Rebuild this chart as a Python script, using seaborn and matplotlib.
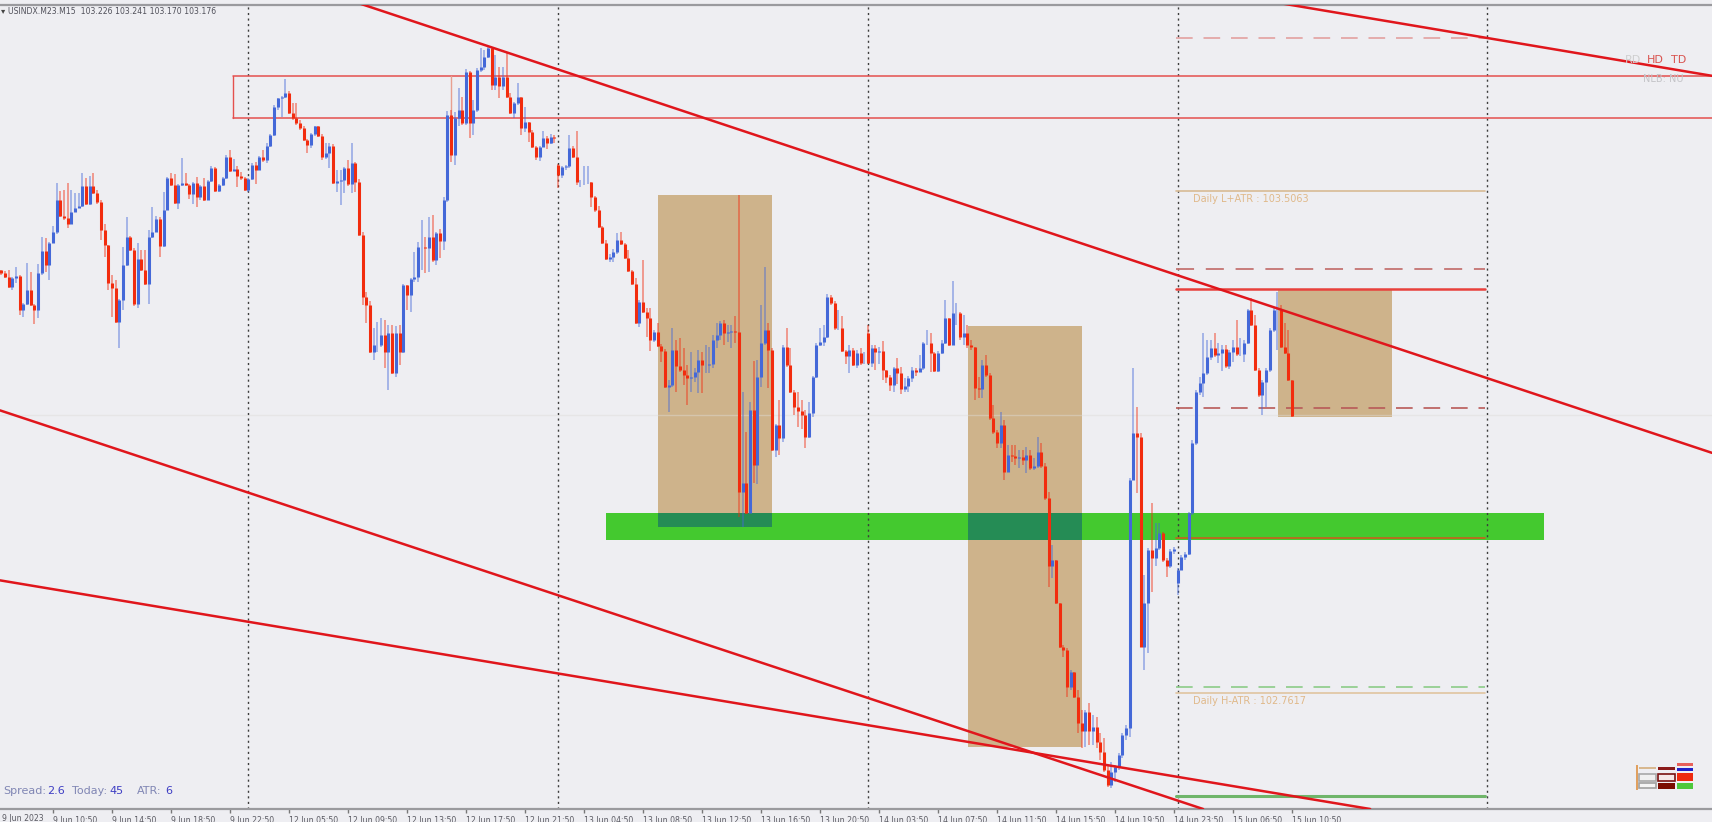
"""
plot.py

USINDX M15 chart with zones, trend lines and daily ATR levels.
"""

import matplotlib

matplotlib.use("Agg")
import matplotlib.pyplot as plt
from matplotlib.patches import Rectangle
import numpy as np
import pandas as pd
import seaborn as sns

# Figure settings
FIG_W, FIG_H = 1712, 822
BG = "#eeeef2"
BLUE = "#4468d8"
RED = "#f22c0e"
TAN = "#ceb38b"

FIRST_OPEN = 103.389

closes = [
    103.385, 103.379, 103.364, 103.377, 103.380, 103.330, 103.339, 103.359, 103.337, 103.330,
    103.385, 103.417, 103.396, 103.429, 103.445, 103.493, 103.469, 103.466, 103.457, 103.475,
    103.481, 103.484, 103.514, 103.487, 103.514, 103.503, 103.490, 103.448, 103.426, 103.370,
    103.362, 103.312, 103.345, 103.396, 103.438, 103.419, 103.339, 103.405, 103.389, 103.368,
    103.438, 103.445, 103.465, 103.425, 103.478, 103.526, 103.515, 103.488, 103.515, 103.518,
    103.515, 103.502, 103.518, 103.497, 103.514, 103.493, 103.521, 103.540, 103.506, 103.515,
    103.526, 103.557, 103.536, 103.539, 103.528, 103.526, 103.508, 103.524, 103.545, 103.537,
    103.557, 103.552, 103.573, 103.589, 103.631, 103.644, 103.646, 103.652, 103.622, 103.615,
    103.607, 103.600, 103.582, 103.574, 103.591, 103.603, 103.588, 103.557, 103.563, 103.573,
    103.518, 103.521, 103.523, 103.540, 103.517, 103.548, 103.520, 103.441, 103.349, 103.337,
    103.268, 103.278, 103.278, 103.293, 103.268, 103.296, 103.236, 103.296, 103.268, 103.367,
    103.352, 103.376, 103.379, 103.423, 103.423, 103.422, 103.438, 103.404, 103.444, 103.432,
    103.493, 103.619, 103.560, 103.615, 103.626, 103.607, 103.683, 103.607, 103.626, 103.686,
    103.690, 103.705, 103.718, 103.663, 103.675, 103.662, 103.675, 103.646, 103.622, 103.637,
    103.646, 103.600, 103.609, 103.594, 103.572, 103.557, 103.572, 103.585, 103.577, 103.586,
    103.585, 103.530, 103.542, 103.543, 103.570, 103.557, 103.520, 103.520, 103.520, 103.520,
    103.497, 103.478, 103.453, 103.429, 103.405, 103.408, 103.416, 103.434, 103.428, 103.407,
    103.388, 103.368, 103.311, 103.342, 103.327, 103.318, 103.285, 103.297, 103.276, 103.269,
    103.216, 103.219, 103.270, 103.247, 103.241, 103.233, 103.229, 103.230, 103.238, 103.256,
    103.248, 103.248, 103.250, 103.285, 103.293, 103.311, 103.296, 103.297, 103.299, 103.297,
    103.060, 103.073, 103.029, 103.181, 103.100, 103.230, 103.281, 103.300, 103.270, 103.122,
    103.159, 103.140, 103.275, 103.248, 103.208, 103.186, 103.180, 103.174, 103.141, 103.177,
    103.230, 103.278, 103.282, 103.290, 103.349, 103.340, 103.303, 103.303, 103.269, 103.262,
    103.270, 103.248, 103.266, 103.251, 103.251, 103.251, 103.273, 103.267, 103.269, 103.241,
    103.230, 103.219, 103.244, 103.236, 103.213, 103.217, 103.229, 103.241, 103.238, 103.244,
    103.281, 103.281, 103.266, 103.239, 103.266, 103.281, 103.318, 103.278, 103.325, 103.325,
    103.290, 103.296, 103.278, 103.275, 103.214, 103.213, 103.248, 103.233, 103.170, 103.149,
    103.133, 103.159, 103.090, 103.115, 103.113, 103.110, 103.112, 103.107, 103.115, 103.095,
    103.098, 103.119, 103.098, 103.051, 102.950, 102.959, 102.895, 102.830, 102.826, 102.771,
    102.793, 102.756, 102.717, 102.705, 102.734, 102.705, 102.711, 102.690, 102.674, 102.648,
    102.625, 102.645, 102.652, 102.670, 102.700, 102.710, 103.078, 103.147, 103.141, 102.830,
    102.895, 102.974, 102.962, 102.977, 102.999, 102.959, 102.950, 102.972, 102.975, 102.944,
    102.963, 102.968, 103.029, 103.133, 103.208, 103.222, 103.236, 103.260, 103.273, 103.263,
    103.266, 103.272, 103.247, 103.267, 103.275, 103.264, 103.264, 103.281, 103.330, 103.308,
    103.241, 103.204, 103.223, 103.241, 103.300, 103.330, 103.330, 103.275, 103.266, 103.226,
    103.173,
]

highs = [
    103.389, 103.388, 103.389, 103.379, 103.394, 103.382, 103.340, 103.400, 103.386, 103.339,
    103.398, 103.438, 103.436, 103.431, 103.454, 103.518, 103.506, 103.508, 103.518, 103.508,
    103.503, 103.503, 103.533, 103.526, 103.529, 103.533, 103.508, 103.493, 103.457, 103.426,
    103.382, 103.374, 103.346, 103.423, 103.468, 103.440, 103.422, 103.429, 103.419, 103.419,
    103.448, 103.483, 103.469, 103.468, 103.505, 103.527, 103.533, 103.531, 103.517, 103.555,
    103.533, 103.517, 103.520, 103.527, 103.515, 103.526, 103.523, 103.543, 103.542, 103.517,
    103.527, 103.560, 103.567, 103.554, 103.543, 103.534, 103.527, 103.526, 103.548, 103.549,
    103.558, 103.567, 103.577, 103.591, 103.634, 103.644, 103.647, 103.672, 103.655, 103.637,
    103.637, 103.612, 103.603, 103.583, 103.592, 103.603, 103.603, 103.591, 103.577, 103.577,
    103.576, 103.537, 103.537, 103.542, 103.552, 103.577, 103.549, 103.524, 103.445, 103.356,
    103.343, 103.303, 103.312, 103.318, 103.315, 103.308, 103.308, 103.306, 103.308, 103.368,
    103.367, 103.377, 103.416, 103.430, 103.463, 103.438, 103.468, 103.471, 103.445, 103.450,
    103.497, 103.625, 103.626, 103.623, 103.659, 103.646, 103.687, 103.684, 103.641, 103.689,
    103.718, 103.715, 103.721, 103.718, 103.708, 103.690, 103.690, 103.711, 103.652, 103.638,
    103.666, 103.646, 103.631, 103.609, 103.597, 103.573, 103.573, 103.595, 103.588, 103.591,
    103.589, 103.546, 103.543, 103.545, 103.589, 103.573, 103.595, 103.523, 103.543, 103.543,
    103.520, 103.499, 103.484, 103.454, 103.434, 103.413, 103.420, 103.444, 103.445, 103.429,
    103.419, 103.389, 103.377, 103.345, 103.404, 103.333, 103.333, 103.300, 103.311, 103.279,
    103.272, 103.226, 103.303, 103.285, 103.288, 103.273, 103.248, 103.267, 103.244, 103.270,
    103.267, 103.278, 103.275, 103.293, 103.311, 103.313, 103.315, 103.308, 103.308, 103.321,
    103.500, 103.208, 103.149, 103.193, 103.254, 103.256, 103.337, 103.393, 103.310, 103.273,
    103.161, 103.196, 103.278, 103.303, 103.273, 103.211, 103.208, 103.196, 103.181, 103.193,
    103.232, 103.281, 103.303, 103.308, 103.354, 103.352, 103.343, 103.330, 103.321, 103.270,
    103.278, 103.273, 103.270, 103.273, 103.267, 103.308, 103.278, 103.278, 103.275, 103.284,
    103.241, 103.233, 103.245, 103.259, 103.245, 103.229, 103.232, 103.245, 103.244, 103.263,
    103.282, 103.300, 103.296, 103.267, 103.269, 103.285, 103.345, 103.318, 103.373, 103.340,
    103.327, 103.322, 103.308, 103.285, 103.275, 103.230, 103.256, 103.263, 103.236, 103.189,
    103.152, 103.179, 103.167, 103.130, 103.130, 103.130, 103.122, 103.122, 103.127, 103.122,
    103.110, 103.141, 103.133, 103.103, 103.060, 102.981, 102.959, 102.895, 102.833, 102.829,
    102.796, 102.793, 102.766, 102.737, 102.737, 102.747, 102.729, 102.726, 102.702, 102.695,
    102.655, 102.660, 102.655, 102.673, 102.702, 102.714, 103.081, 103.244, 103.186, 103.147,
    102.937, 102.977, 103.044, 103.014, 103.014, 103.000, 102.962, 102.975, 102.978, 102.947,
    102.966, 102.971, 103.030, 103.137, 103.211, 103.231, 103.296, 103.285, 103.285, 103.296,
    103.281, 103.278, 103.278, 103.270, 103.285, 103.315, 103.288, 103.285, 103.331, 103.348,
    103.322, 103.244, 103.226, 103.244, 103.303, 103.333, 103.356, 103.337, 103.311, 103.300,
    103.226,
]

lows = [
    103.382, 103.377, 103.362, 103.359, 103.370, 103.322, 103.320, 103.337, 103.336, 103.309,
    103.318, 103.382, 103.386, 103.374, 103.429, 103.442, 103.468, 103.463, 103.451, 103.457,
    103.475, 103.481, 103.483, 103.486, 103.486, 103.502, 103.487, 103.434, 103.408, 103.359,
    103.319, 103.311, 103.273, 103.330, 103.395, 103.417, 103.336, 103.333, 103.388, 103.367,
    103.339, 103.437, 103.445, 103.408, 103.423, 103.478, 103.514, 103.487, 103.480, 103.514,
    103.514, 103.494, 103.487, 103.482, 103.493, 103.491, 103.500, 103.520, 103.505, 103.505,
    103.514, 103.524, 103.534, 103.537, 103.512, 103.523, 103.506, 103.505, 103.523, 103.517,
    103.537, 103.549, 103.548, 103.572, 103.588, 103.626, 103.616, 103.644, 103.620, 103.612,
    103.604, 103.597, 103.580, 103.563, 103.570, 103.588, 103.586, 103.552, 103.554, 103.540,
    103.517, 103.505, 103.486, 103.503, 103.514, 103.503, 103.505, 103.440, 103.337, 103.310,
    103.266, 103.256, 103.268, 103.275, 103.244, 103.211, 103.235, 103.230, 103.248, 103.266,
    103.330, 103.327, 103.371, 103.371, 103.389, 103.385, 103.386, 103.401, 103.396, 103.407,
    103.419, 103.490, 103.549, 103.545, 103.603, 103.604, 103.604, 103.585, 103.589, 103.623,
    103.683, 103.686, 103.704, 103.656, 103.656, 103.644, 103.656, 103.644, 103.620, 103.615,
    103.634, 103.589, 103.594, 103.579, 103.570, 103.552, 103.551, 103.572, 103.569, 103.576,
    103.577, 103.511, 103.526, 103.537, 103.540, 103.555, 103.515, 103.512, 103.515, 103.517,
    103.483, 103.475, 103.451, 103.428, 103.404, 103.401, 103.401, 103.413, 103.426, 103.405,
    103.386, 103.367, 103.309, 103.305, 103.325, 103.290, 103.269, 103.282, 103.275, 103.253,
    103.214, 103.178, 103.216, 103.208, 103.238, 103.219, 103.189, 103.208, 103.223, 103.207,
    103.207, 103.236, 103.236, 103.244, 103.273, 103.285, 103.278, 103.282, 103.273, 103.281,
    103.023, 103.008, 103.027, 103.033, 103.073, 103.072, 103.216, 103.278, 103.214, 103.121,
    103.112, 103.115, 103.134, 103.245, 103.207, 103.174, 103.156, 103.153, 103.125, 103.140,
    103.171, 103.229, 103.276, 103.276, 103.288, 103.337, 103.300, 103.300, 103.268, 103.250,
    103.236, 103.247, 103.244, 103.248, 103.250, 103.250, 103.245, 103.241, 103.250, 103.226,
    103.222, 103.210, 103.208, 103.220, 103.205, 103.208, 103.208, 103.223, 103.232, 103.238,
    103.241, 103.278, 103.238, 103.238, 103.238, 103.265, 103.280, 103.276, 103.278, 103.308,
    103.285, 103.278, 103.273, 103.270, 103.196, 103.200, 103.200, 103.230, 103.167, 103.146,
    103.125, 103.125, 103.078, 103.089, 103.104, 103.100, 103.095, 103.100, 103.088, 103.092,
    103.092, 103.095, 103.095, 103.048, 102.919, 102.932, 102.894, 102.829, 102.815, 102.756,
    102.766, 102.754, 102.702, 102.680, 102.682, 102.685, 102.685, 102.680, 102.662, 102.645,
    102.622, 102.621, 102.630, 102.648, 102.666, 102.692, 102.697, 103.078, 103.058, 102.830,
    102.796, 102.821, 102.911, 102.951, 102.974, 102.956, 102.934, 102.947, 102.968, 102.907,
    102.944, 102.959, 102.966, 103.026, 103.129, 103.204, 103.201, 103.233, 103.256, 103.260,
    103.251, 103.239, 103.244, 103.242, 103.253, 103.261, 103.261, 103.253, 103.279, 103.306,
    103.239, 103.201, 103.174, 103.186, 103.238, 103.297, 103.270, 103.273, 103.264, 103.224,
    103.171,
]

# Bars that open away from the previous close
gap_bars = [151, 235, 319]
gap_opens = [103.545, 103.296, 102.925]

# Time axis
tick_bars = list(range(14, 351, 16))
tick_labels = [
    "9 Jun 10:50", "9 Jun 14:50", "9 Jun 18:50", "9 Jun 22:50", "12 Jun 05:50", "12 Jun 09:50",
    "12 Jun 13:50", "12 Jun 17:50", "12 Jun 21:50", "13 Jun 04:50", "13 Jun 08:50", "13 Jun 12:50",
    "13 Jun 16:50", "13 Jun 20:50", "14 Jun 03:50", "14 Jun 07:50", "14 Jun 11:50", "14 Jun 15:50",
    "14 Jun 19:50", "14 Jun 23:50", "15 Jun 06:50", "15 Jun 10:50",
]
separator_bars = [67, 151, 235, 319, 403]

# Tan session boxes: start bar, end bar, top price, bottom price
box_starts = [178.1, 262.2, 346.2]
box_ends = [209.0, 293.1, 377.2]
box_tops = [103.500, 103.306, 103.361]
box_bottoms = [103.008, 102.682, 103.171]

# Green demand band
band_start, band_end = 164.0, 418.4
band_top, band_bottom = 103.029, 102.989

# Red supply box runs off the right edge
supply_start, supply_end = 62.8, 470.0
supply_top, supply_bottom = 103.677, 103.614
supply_inner_bar = 122.0

# Trend lines
trend_x0 = [97.3, 347.6, -0.35, -0.35]
trend_x1 = [463.9, 463.9, 325.9, 371.2]
trend_y0 = [103.784, 103.784, 103.181, 102.929]
trend_y1 = [103.118, 103.677, 102.590, 102.590]

# Daily levels
level_start, level_end = 318.6, 402.4
level_prices = [103.733, 103.5063, 103.390, 103.361, 103.184, 102.992, 102.771, 102.7617, 102.609]
level_colors = ["#e2a0a0", "#d8bb95", "#c47472", "#e8403c", "#b85a58", "#c8601c", "#8ccc88", "#e0c4a0", "#6fb56a"]
level_styles = ["--", "-", "--", "-", "--", "-", "--", "-", "-"]
level_widths = [1.2, 1.2, 1.3, 1.8, 1.2, 1.2, 1.2, 1.2, 2.2]
bid_price = 103.174

# Panel widget, bottom right: x0, y0, x1, y1 in figure pixels, face, edge
widget = [
    (1636, 765, 1637.5, 790, "#e0a060", None),
    (1639, 767, 1656, 769, "#d8b890", None),
    (1658, 767, 1675, 770, "#8a1a1a", None),
    (1677, 763, 1693, 766, "#e8605a", None),
    (1677, 768, 1693, 771, "#2020c8", None),
    (1639, 774, 1656, 781, "#f0f0f0", "#a8a8a8"),
    (1658, 774, 1675, 781, "#f5e8e8", "#7a1010"),
    (1677, 773, 1693, 781, "#ee2a10", None),
    (1639, 783, 1656, 788, "#f4f4f4", "#a0a0a0"),
    (1658, 783, 1675, 789, "#7a0c00", None),
    (1677, 783, 1693, 789, "#4ec83c", None),
]


def _build_candles():
    """Long tables of wick and body segments, two rows per bar."""
    opens = np.r_[FIRST_OPEN, closes[:-1]]
    opens[gap_bars] = gap_opens
    close_arr = np.array(closes)
    bars = np.arange(len(close_arr))
    direction = np.where(close_arr >= opens, "up", "down")
    wicks = pd.DataFrame(
        {
            "bar": np.repeat(bars, 2),
            "price": np.column_stack([lows, highs]).ravel(),
            "dir": np.repeat(direction, 2),
        }
    )
    bodies = pd.DataFrame(
        {
            "bar": np.repeat(bars, 2),
            "price": np.column_stack([opens, close_arr]).ravel(),
            "dir": np.repeat(direction, 2),
        }
    )
    return wicks, bodies


def _rect(ax, x0, x1, y0, y1, **kwargs):
    ax.bar(x0, y1 - y0, width=x1 - x0, bottom=y0, align="edge", linewidth=0, **kwargs)


def _segment(ax, xs, ys, **kwargs):
    sns.lineplot(x=xs, y=ys, ax=ax, estimator=None, sort=False, legend=False, **kwargs)


def main():
    sns.set_theme(style="white", rc={"axes.facecolor": BG, "figure.facecolor": BG})
    plt.rcParams["font.family"] = ["DejaVu Sans"]

    fig = plt.figure(figsize=(FIG_W / 100, FIG_H / 100), dpi=100)
    ax = fig.add_axes([0, (FIG_H - 809) / FIG_H, 1, (809 - 5) / FIG_H])

    # Zones underneath the candles
    for x0, x1, top, bottom in zip(box_starts, box_ends, box_tops, box_bottoms):
        _rect(ax, x0, x1, bottom, top, color=TAN, zorder=1)
    _rect(ax, band_start, band_end, band_bottom, band_top, color="#44c92f", zorder=1.5)
    for x0, x1, bottom in zip(box_starts[:2], box_ends[:2], box_bottoms[:2]):
        _rect(ax, x0, x1, max(bottom, band_bottom), band_top, color="#258c55", zorder=1.6)

    # Bid line, levels and period separators
    ax.axhline(bid_price, color="#dedcd8", lw=1, alpha=0.45, zorder=1.8)
    for bar in separator_bars:
        ax.axvline(bar, color="#3c3c3c", lw=1, ls=(0, (1.5, 2.5)), zorder=1.9)
    for price, color, style, width in zip(level_prices, level_colors, level_styles, level_widths):
        _segment(ax, [level_start, level_end], [price, price], color=color,
                 linestyle=(0, (10, 6.5)) if style == "--" else "-", linewidth=width, zorder=2)

    # Supply box outline
    for price in (supply_top, supply_bottom):
        _segment(ax, [supply_start, supply_end], [price, price], color="#e4504e", linewidth=1.1, zorder=2.2)
    for bar, color in ((supply_start, "#e4504e"), (supply_inner_bar, "#e8a090")):
        _segment(ax, [bar, bar], [supply_bottom, supply_top], color=color, linewidth=1.0, zorder=2.2)

    # Candles
    wicks, bodies = _build_candles()
    palette = {"up": BLUE, "down": RED}
    sns.lineplot(data=wicks, x="bar", y="price", hue="dir", units="bar", estimator=None, sort=False,
                 palette=palette, legend=False, linewidth=1.1, alpha=0.55, zorder=3, ax=ax,
                 solid_capstyle="butt")
    sns.lineplot(data=bodies, x="bar", y="price", hue="dir", units="bar", estimator=None, sort=False,
                 palette=palette, legend=False, linewidth=2.2, zorder=3.5, ax=ax,
                 solid_capstyle="butt")

    # Trend lines
    for x0, x1, y0, y1 in zip(trend_x0, trend_x1, trend_y0, trend_y1):
        _segment(ax, [x0, x1], [y0, y1], color="#e0161c", linewidth=1.8, zorder=4)

    # Axes
    ax.set_xlim(-0.35, 463.9)
    ax.set_ylim(102.590, 103.782)
    ax.set_xlabel("")
    ax.set_ylabel("")
    ax.set_yticks([])
    ax.set_xticks(tick_bars)
    ax.set_xticklabels(tick_labels, ha="left", fontsize=5.6, color="#5a5a62")
    ax.tick_params(axis="x", bottom=True, length=3, width=1, color="#777777", pad=2)
    for side, spine in ax.spines.items():
        spine.set_visible(side in ("top", "bottom"))
        spine.set_color("#9a9a9e")
        spine.set_linewidth(1.6)
    ax.text(0.1, -0.006, "9 Jun 2023", transform=ax.get_xaxis_transform(), va="top", ha="left",
            fontsize=5.6, color="#5a5a62", clip_on=False)

    # Level captions
    ax.text(level_start + 4.5, 103.5063 - 0.004, "Daily L+ATR : 103.5063", va="top", ha="left",
            fontsize=7, color="#e0b98a", zorder=5)
    ax.text(level_start + 4.5, 102.7617 - 0.004, "Daily H-ATR : 102.7617", va="top", ha="left",
            fontsize=7, color="#e0b98a", zorder=5)

    # Terminal overlay text, placed in figure pixels
    def put(x, y, text, **kwargs):
        fig.text(x / FIG_W, 1 - y / FIG_H, text, va="center", ha="left", **kwargs)

    put(1, 11, "▾", fontsize=6, color="#444444")
    put(8, 11, "USINDX.M23.M15  103.226 103.241 103.170 103.176", fontsize=5.6, color="#50505a")
    for x, text, color in (
        (3, "Spread:", "#8086b4"), (47, "2.6", "#3e3ec4"), (72, "Today:", "#8086b4"),
        (109, "45", "#3e3ec4"), (137, "ATR:", "#8086b4"), (165, "6", "#3e3ec4"),
    ):
        put(x, 791, text, fontsize=8, color=color)
    put(1625, 60, "RD", fontsize=8, color="#cfcfcf")
    put(1647, 60, "HD", fontsize=8, color="#d9534f")
    put(1671, 60, "TD", fontsize=8, color="#d9534f")
    put(1643, 79, "NLB: NU", fontsize=7, color="#c4c4c8")

    # Panel widget
    for x0, y0, x1, y1, face, edge in widget:
        fig.add_artist(
            Rectangle(
                (x0 / FIG_W, 1 - y1 / FIG_H), (x1 - x0) / FIG_W, (y1 - y0) / FIG_H,
                transform=fig.transFigure, facecolor=face,
                edgecolor=edge if edge else "none", linewidth=1.2 if edge else 0,
            )
        )

    fig.savefig("out.png", dpi=100, facecolor=BG)


if __name__ == "__main__":
    main()
